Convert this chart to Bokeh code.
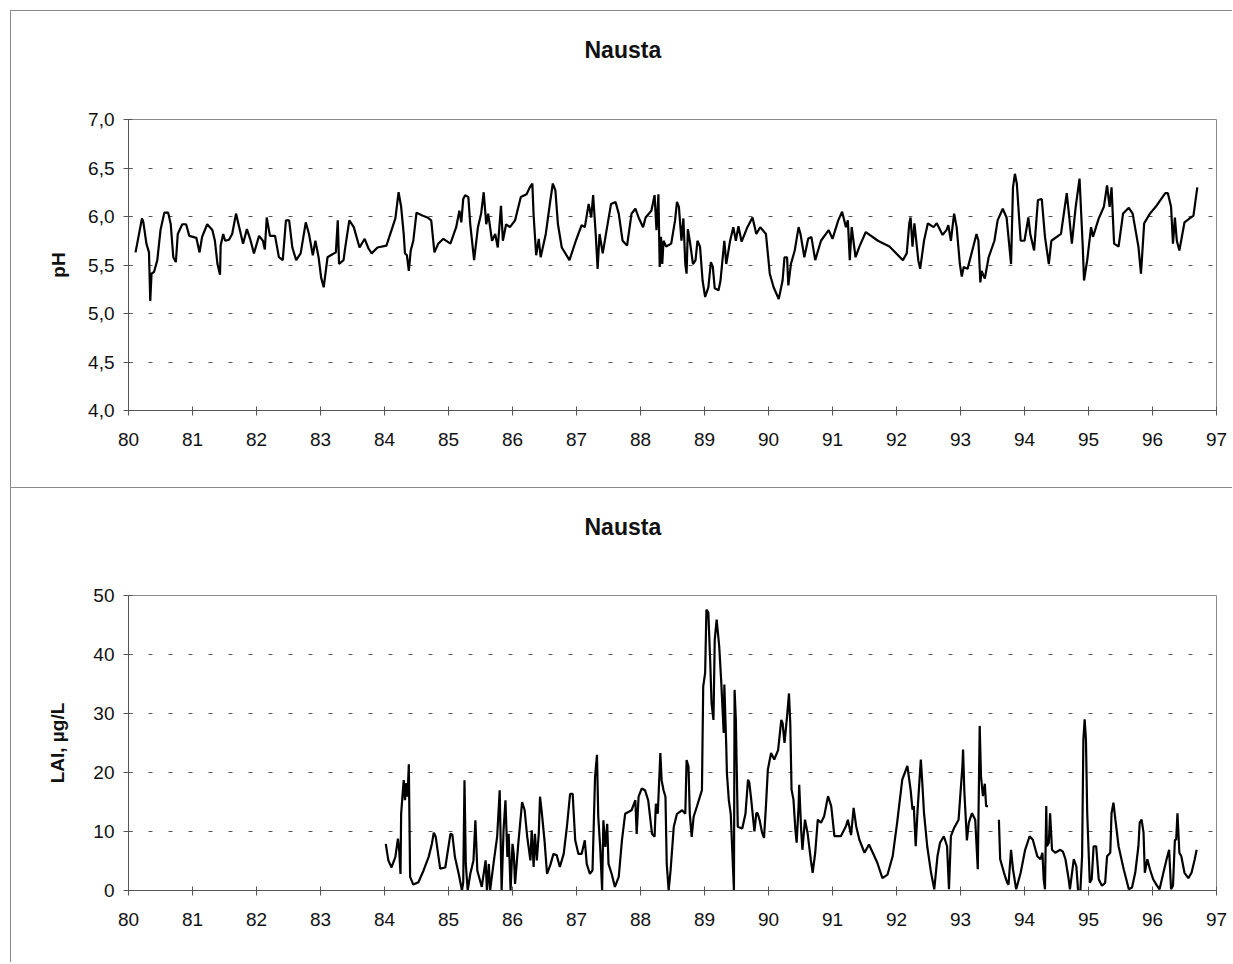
from bokeh.plotting import figure
from bokeh.models import FixedTicker, Range1d, Title
from bokeh.layouts import column
from bokeh.embed import file_html
from bokeh.resources import INLINE

# ---------------- data ----------------
title_text = "Nausta"
x_ticks = list(range(80, 98))
ph_ticks = [4.0, 4.5, 5.0, 5.5, 6.0, 6.5, 7.0]
ph_tick_labels = ["4,0", "4,5", "5,0", "5,5", "6,0", "6,5", "7,0"]
lai_ticks = [0, 10, 20, 30, 40, 50]
ph_label = "pH"
lai_label = "LAI, µg/L"

ph_year = [80.11, 80.21, 80.23, 80.28, 80.32, 80.34, 80.36, 80.40, 80.45, 80.50,
           80.56, 80.62, 80.66, 80.70, 80.74, 80.77, 80.84, 80.90, 80.95, 81.06,
           81.11, 81.15, 81.23, 81.31, 81.35, 81.39, 81.43, 81.44, 81.48, 81.51,
           81.57, 81.62, 81.68, 81.73, 81.79, 81.85, 81.90, 81.96, 82.04, 82.10,
           82.13, 82.16, 82.21, 82.29, 82.35, 82.41, 82.46, 82.51, 82.56, 82.62,
           82.69, 82.77, 82.82, 82.88, 82.92, 82.97, 83.01, 83.05, 83.11, 83.16,
           83.24, 83.27, 83.29, 83.36, 83.38, 83.45, 83.52, 83.61, 83.69, 83.75,
           83.80, 83.89, 84.03, 84.11, 84.17, 84.22, 84.26, 84.30, 84.32, 84.35,
           84.38, 84.41, 84.45, 84.50, 84.59, 84.67, 84.73, 84.78, 84.84, 84.92,
           85.03, 85.12, 85.17, 85.20, 85.23, 85.26, 85.31, 85.34, 85.40, 85.46,
           85.51, 85.55, 85.59, 85.62, 85.68, 85.73, 85.77, 85.82, 85.85, 85.90,
           85.96, 86.04, 86.13, 86.22, 86.27, 86.31, 86.33, 86.37, 86.41, 86.44,
           86.52, 86.59, 86.63, 86.67, 86.71, 86.77, 86.89, 86.99, 87.08, 87.13,
           87.19, 87.23, 87.26, 87.30, 87.33, 87.36, 87.41, 87.47, 87.54, 87.61,
           87.66, 87.72, 87.79, 87.86, 87.92, 87.97, 88.04, 88.08, 88.17, 88.22,
           88.25, 88.28, 88.30, 88.32, 88.34, 88.36, 88.40, 88.48, 88.54, 88.57,
           88.60, 88.64, 88.67, 88.70, 88.72, 88.74, 88.77, 88.82, 88.86, 88.89,
           88.93, 88.97, 89.01, 89.06, 89.10, 89.13, 89.16, 89.22, 89.25, 89.31,
           89.34, 89.40, 89.45, 89.49, 89.53, 89.58, 89.67, 89.75, 89.81, 89.87,
           89.96, 90.02, 90.08, 90.16, 90.22, 90.25, 90.29, 90.31, 90.35, 90.41,
           90.47, 90.50, 90.56, 90.62, 90.67, 90.73, 90.82, 90.94, 91.00, 91.09,
           91.15, 91.21, 91.24, 91.27, 91.30, 91.36, 91.42, 91.52, 91.71, 91.89,
           92.10, 92.16, 92.20, 92.22, 92.25, 92.28, 92.34, 92.37, 92.43, 92.49,
           92.58, 92.63, 92.72, 92.78, 92.81, 92.85, 92.90, 92.94, 92.99, 93.02,
           93.05, 93.11, 93.20, 93.25, 93.28, 93.31, 93.33, 93.38, 93.44, 93.53,
           93.58, 93.66, 93.72, 93.79, 93.82, 93.85, 93.88, 93.94, 94.00, 94.06,
           94.09, 94.15, 94.21, 94.27, 94.32, 94.38, 94.42, 94.57, 94.66, 94.70,
           94.74, 94.80, 94.86, 94.91, 94.93, 94.98, 95.04, 95.07, 95.16, 95.24,
           95.29, 95.33, 95.36, 95.40, 95.47, 95.54, 95.63, 95.69, 95.78, 95.82,
           95.87, 95.96, 96.05, 96.20, 96.24, 96.29, 96.32, 96.35, 96.38, 96.42,
           96.50, 96.58, 96.64, 96.70]
ph_value = [5.63, 5.98, 5.95, 5.72, 5.63, 5.13, 5.41, 5.43, 5.55, 5.86,
            6.04, 6.04, 5.92, 5.58, 5.53, 5.82, 5.92, 5.92, 5.80, 5.78,
            5.63, 5.79, 5.92, 5.86, 5.75, 5.51, 5.40, 5.70, 5.82, 5.75,
            5.76, 5.82, 6.03, 5.89, 5.72, 5.87, 5.77, 5.62, 5.80, 5.75,
            5.66, 5.99, 5.80, 5.80, 5.58, 5.55, 5.96, 5.96, 5.68, 5.55,
            5.62, 5.94, 5.82, 5.60, 5.75, 5.58, 5.37, 5.27, 5.58, 5.60,
            5.63, 5.96, 5.51, 5.55, 5.65, 5.96, 5.89, 5.68, 5.77, 5.67,
            5.62, 5.68, 5.70, 5.86, 5.98, 6.25, 6.10, 5.82, 5.62, 5.60,
            5.44, 5.65, 5.75, 6.04, 6.01, 5.99, 5.96, 5.63, 5.72, 5.77,
            5.72, 5.89, 6.06, 5.94, 6.18, 6.22, 6.20, 5.92, 5.55, 5.89,
            6.03, 6.25, 5.92, 6.03, 5.75, 5.82, 5.68, 6.11, 5.75, 5.92,
            5.89, 5.96, 6.20, 6.23, 6.30, 6.34, 6.01, 5.60, 5.77, 5.58,
            5.82, 6.16, 6.34, 6.27, 5.92, 5.68, 5.55, 5.75, 5.91, 5.89,
            6.13, 5.99, 6.22, 5.82, 5.46, 5.82, 5.62, 5.86, 6.13, 6.15,
            6.03, 5.75, 5.70, 6.03, 6.08, 5.99, 5.89, 5.99, 6.06, 6.22,
            5.86, 6.23, 5.48, 5.79, 5.51, 5.75, 5.69, 5.72, 5.96, 6.15,
            6.10, 5.75, 5.98, 5.51, 5.41, 5.87, 5.75, 5.51, 5.55, 5.75,
            5.69, 5.34, 5.17, 5.27, 5.53, 5.48, 5.26, 5.24, 5.34, 5.75,
            5.51, 5.75, 5.89, 5.75, 5.90, 5.74, 5.89, 5.99, 5.82, 5.89,
            5.82, 5.41, 5.27, 5.15, 5.34, 5.58, 5.58, 5.29, 5.51, 5.65,
            5.89, 5.82, 5.58, 5.77, 5.79, 5.55, 5.75, 5.86, 5.77, 5.96,
            6.05, 5.89, 5.96, 5.55, 5.89, 5.58, 5.69, 5.84, 5.75, 5.69,
            5.55, 5.62, 5.93, 5.99, 5.69, 5.93, 5.55, 5.46, 5.75, 5.93,
            5.89, 5.93, 5.81, 5.86, 5.91, 5.75, 6.03, 5.89, 5.51, 5.38,
            5.48, 5.46, 5.69, 5.82, 5.75, 5.32, 5.44, 5.36, 5.58, 5.75,
            5.96, 6.08, 5.99, 5.51, 6.30, 6.44, 6.34, 5.75, 5.75, 5.99,
            5.82, 5.65, 6.17, 6.18, 5.79, 5.51, 5.75, 5.82, 6.24, 5.99,
            5.72, 6.10, 6.39, 5.69, 5.34, 5.55, 5.89, 5.79, 5.98, 6.10,
            6.32, 6.10, 6.30, 5.72, 5.69, 6.03, 6.09, 6.03, 5.69, 5.41,
            5.93, 6.03, 6.10, 6.24, 6.24, 6.10, 5.72, 5.99, 5.75, 5.65,
            5.94, 5.98, 6.01, 6.30]

nan = float("nan")
lai_year = [84.02, 84.06, 84.11, 84.17, 84.21, 84.23, 84.25, 84.26, 84.28, 84.30,
            84.32, 84.34, 84.36, 84.38, 84.40, 84.45, 84.53, 84.61, 84.69, 84.74,
            84.77, 84.80, 84.87, 84.95, 85.03, 85.06, 85.10, 85.16, 85.21, 85.23,
            85.25, 85.27, 85.30, 85.34, 85.39, 85.42, 85.45, 85.52, 85.58, 85.60,
            85.63, 85.65, 85.71, 85.76, 85.80, 85.83, 85.86, 85.89, 85.92, 85.94,
            85.97, 86.00, 86.02, 86.04, 86.09, 86.15, 86.19, 86.23, 86.28, 86.30,
            86.33, 86.35, 86.38, 86.41, 86.43, 86.46, 86.50, 86.54, 86.59, 86.64,
            86.69, 86.74, 86.80, 86.85, 86.90, 86.94, 86.98, 87.03, 87.08, 87.13,
            87.16, 87.21, 87.25, 87.29, 87.32, 87.34, 87.37, 87.40, 87.42, 87.45,
            87.48, 87.50, 87.55, 87.60, 87.66, 87.71, 87.76, 87.81, 87.86, 87.92,
            87.94, 87.97, 88.02, 88.07, 88.12, 88.18, 88.22, 88.24, 88.27, 88.31,
            88.33, 88.36, 88.39, 88.41, 88.44, 88.47, 88.52, 88.57, 88.65, 88.70,
            88.72, 88.75, 88.77, 88.80, 88.83, 88.88, 88.96, 88.98, 89.01, 89.03,
            89.06, 89.09, 89.11, 89.14, 89.16, 89.19, 89.23, 89.26, 89.30, 89.31,
            89.34, 89.35, 89.38, 89.41, 89.46, 89.47, 89.49, 89.52, 89.59, 89.64,
            89.68, 89.70, 89.73, 89.78, 89.81, 89.83, 89.86, 89.90, 89.93, 89.96,
            89.99, 90.04, 90.09, 90.15, 90.20, 90.22, 90.25, 90.29, 90.32, 90.34,
            90.36, 90.39, 90.42, 90.44, 90.47, 90.48, 90.51, 90.53, 90.57, 90.61,
            90.66, 90.69, 90.73, 90.77, 90.82, 90.87, 90.93, 90.98, 91.03, 91.13,
            91.21, 91.24, 91.29, 91.33, 91.37, 91.42, 91.50, 91.57, 91.63, 91.70,
            91.78, 91.86, 91.94, 92.01, 92.09, 92.17, 92.22, 92.25, 92.27, 92.30,
            92.33, 92.38, 92.40, 92.43, 92.48, 92.54, 92.59, 92.64, 92.68, 92.74,
            92.79, 92.82, 92.85, 92.90, 92.97, 93.03, 93.04, 93.06, 93.10, 93.13,
            93.18, 93.23, 93.27, 93.30, 93.32, 93.35, 93.38, 93.40, 93.43, 93.50,
            93.60, 93.62, 93.68, 93.73, 93.75, 93.79, 93.82, 93.87, 93.94, 94.01,
            94.08, 94.13, 94.20, 94.25, 94.28, 94.30, 94.32, 94.34, 94.35, 94.38,
            94.40, 94.43, 94.48, 94.56, 94.60, 94.64, 94.69, 94.71, 94.77, 94.81,
            94.84, 94.87, 94.90, 94.92, 94.94, 94.96, 94.98, 95.02, 95.05, 95.08,
            95.12, 95.16, 95.21, 95.26, 95.29, 95.34, 95.36, 95.39, 95.42, 95.47,
            95.55, 95.63, 95.68, 95.73, 95.78, 95.80, 95.83, 95.86, 95.88, 95.92,
            95.96, 96.01, 96.06, 96.11, 96.17, 96.22, 96.26, 96.29, 96.32, 96.35,
            96.37, 96.39, 96.42, 96.45, 96.50, 96.56, 96.61, 96.66, 96.69]
lai_value = [7.9, 5.1, 3.9, 5.7, 8.8, 6.8, 2.8, 13.0, 15.9, 18.7,
             15.3, 18.2, 15.9, 21.4, 2.3, 1.0, 1.4, 3.4, 5.7, 7.9,
             9.8, 9.1, 3.7, 3.9, 9.6, 9.5, 5.7, 2.8, 0.0, 1.4,
             18.7, 4.5, 0.0, 2.8, 5.1, 11.9, 3.4, 0.6, 5.1, 0.0,
             4.5, 0.0, 5.1, 9.1, 17.0, 0.0, 10.2, 15.3, 5.7, 9.6,
             0.0, 7.9, 6.2, 1.1, 7.9, 15.0, 13.6, 9.1, 5.1, 10.2,
             4.0, 9.6, 5.1, 9.6, 15.9, 13.0, 8.5, 2.8, 4.3, 6.2,
             6.0, 4.0, 6.2, 10.8, 16.4, 16.4, 8.5, 6.2, 6.2, 8.5,
             4.5, 2.8, 3.4, 19.3, 23.0, 12.5, 7.4, 0.0, 11.9, 7.4,
             11.3, 4.5, 2.8, 0.6, 2.3, 8.5, 13.0, 13.3, 13.6, 15.3,
             9.6, 15.9, 17.3, 17.0, 15.3, 9.6, 9.1, 14.7, 13.0, 23.3,
             18.7, 17.0, 15.9, 4.5, 0.0, 3.4, 10.8, 13.0, 13.6, 13.0,
             22.1, 21.0, 13.0, 9.1, 12.5, 14.2, 17.0, 34.6, 36.9, 47.6,
             47.1, 38.6, 31.8, 28.9, 42.5, 45.9, 41.4, 35.7, 26.7, 34.9,
             24.4, 19.9, 15.3, 13.0, 0.0, 34.0, 28.9, 10.8, 10.5, 13.0,
             18.8, 18.3, 15.4, 10.0, 13.1, 13.1, 12.0, 9.8, 8.9, 14.3,
             20.5, 23.3, 22.2, 23.8, 28.9, 28.4, 25.0, 29.5, 33.4, 28.4,
             17.1, 15.4, 10.3, 8.1, 14.3, 17.9, 10.3, 6.9, 12.0, 9.8,
             5.3, 3.0, 6.4, 12.0, 11.5, 12.6, 16.0, 14.3, 9.2, 9.2,
             10.9, 12.0, 9.4, 14.0, 10.9, 8.6, 6.4, 7.8, 6.4, 4.7,
             2.1, 2.7, 5.8, 11.5, 18.8, 21.1, 17.1, 13.7, 14.3, 7.5,
             13.7, 22.2, 18.8, 13.1, 7.5, 3.0, 0.2, 5.8, 8.1, 9.2,
             7.5, 0.2, 9.2, 10.6, 12.0, 21.1, 23.9, 16.8, 8.5, 11.5,
             13.1, 12.0, 3.6, 27.9, 19.4, 16.0, 18.1, 14.3, 14.3, nan,
             12.0, 5.3, 3.0, 1.3, 1.0, 6.9, 3.6, 0.2, 3.0, 6.9,
             9.2, 8.6, 5.8, 5.3, 6.4, 1.9, 0.2, 14.3, 7.5, 8.1,
             13.1, 6.9, 6.4, 6.9, 6.6, 5.3, 1.9, 0.2, 5.3, 4.1,
             -0.4, -0.7, 5.9, 25.6, 29.0, 25.6, 13.1, 1.3, 1.9, 7.5,
             7.5, 1.9, 0.8, 1.3, 5.8, 6.4, 13.1, 14.9, 12.0, 7.5,
             3.6, 0.2, 0.5, 3.0, 7.5, 11.5, 12.0, 9.8, 3.0, 5.3,
             3.6, 1.9, 1.0, 0.2, 3.0, 5.3, 6.9, 0.2, 0.8, 8.6,
             8.6, 13.1, 6.4, 5.8, 3.0, 2.1, 3.0, 5.3, 6.9]

# ---------------- styling helpers ----------------
FONT = "Liberation Sans"
BOX = "1px solid #8a8a8a"


def style(p, yticks, ylabels, ylabel, label_standoff, gap):
    p.xaxis.ticker = FixedTicker(ticks=x_ticks)
    p.yaxis.ticker = FixedTicker(ticks=yticks)
    if ylabels is not None:
        p.yaxis.major_label_overrides = {t: l for t, l in zip(yticks, ylabels)}
    p.yaxis.axis_label = ylabel
    p.yaxis.axis_label_text_font = FONT
    p.yaxis.axis_label_text_font_size = "19px"
    p.yaxis.axis_label_text_font_style = "bold"
    p.yaxis.axis_label_text_color = "#111111"
    p.yaxis.axis_label_standoff = label_standoff
    for ax in (p.xaxis, p.yaxis):
        ax.major_label_text_font = FONT
        ax.major_label_text_font_size = "19px"
        ax.major_label_text_color = "#111111"
        ax.axis_line_color = "#555555"
        ax.axis_line_width = 1
        ax.major_tick_line_color = "#555555"
        ax.major_tick_in = 4
        ax.major_tick_out = 5
        ax.minor_tick_line_color = None
    p.xaxis.major_label_standoff = 17
    p.yaxis.major_label_standoff = 9
    p.xgrid.grid_line_color = None
    p.ygrid.ticker = FixedTicker(ticks=yticks)
    p.ygrid.grid_line_color = "#555555"
    p.ygrid.grid_line_dash = "4 16"
    p.ygrid.grid_line_width = 1
    p.outline_line_color = "#8a8a8a"
    p.outline_line_width = 1
    p.background_fill_color = "white"
    p.border_fill_color = "white"
    p.title.text = title_text
    p.title.align = "left"
    p.title.offset = 456
    p.title.text_font = FONT
    p.title.text_font_size = "23px"
    p.title.text_font_style = "bold"
    p.title.text_color = "#111111"
    p.title.standoff = 0
    # empty spacer panel between the title and the plot frame
    p.add_layout(Title(text=" ", text_font_size="1px", standoff=gap), "above")


p1 = figure(width=1222, height=477, output_backend="svg", toolbar_location=None,
            x_range=Range1d(80, 97), y_range=Range1d(4.0, 7.0),
            min_border_left=117, min_border_right=17,
            min_border_top=108, min_border_bottom=78,
            margin=(10, 0, 0, 10))
p1.line(ph_year, ph_value, line_color="black", line_width=2.2)
style(p1, ph_ticks, ph_tick_labels, ph_label, 16, 54)
p1.styles = {"border-left": BOX, "border-top": BOX}

p2 = figure(width=1222, height=475, output_backend="svg", toolbar_location=None,
            x_range=Range1d(80, 97), y_range=Range1d(0, 50),
            min_border_left=117, min_border_right=17,
            min_border_top=107, min_border_bottom=73,
            margin=(0, 0, 0, 10))
p2.line(lai_year, lai_value, line_color="black", line_width=2.2)
style(p2, lai_ticks, None, lai_label, 22, 53)
p2.styles = {"border-left": BOX, "border-top": BOX}

layout = column(p1, p2, spacing=0)

open("out.html", "w").write(file_html(layout, INLINE))
